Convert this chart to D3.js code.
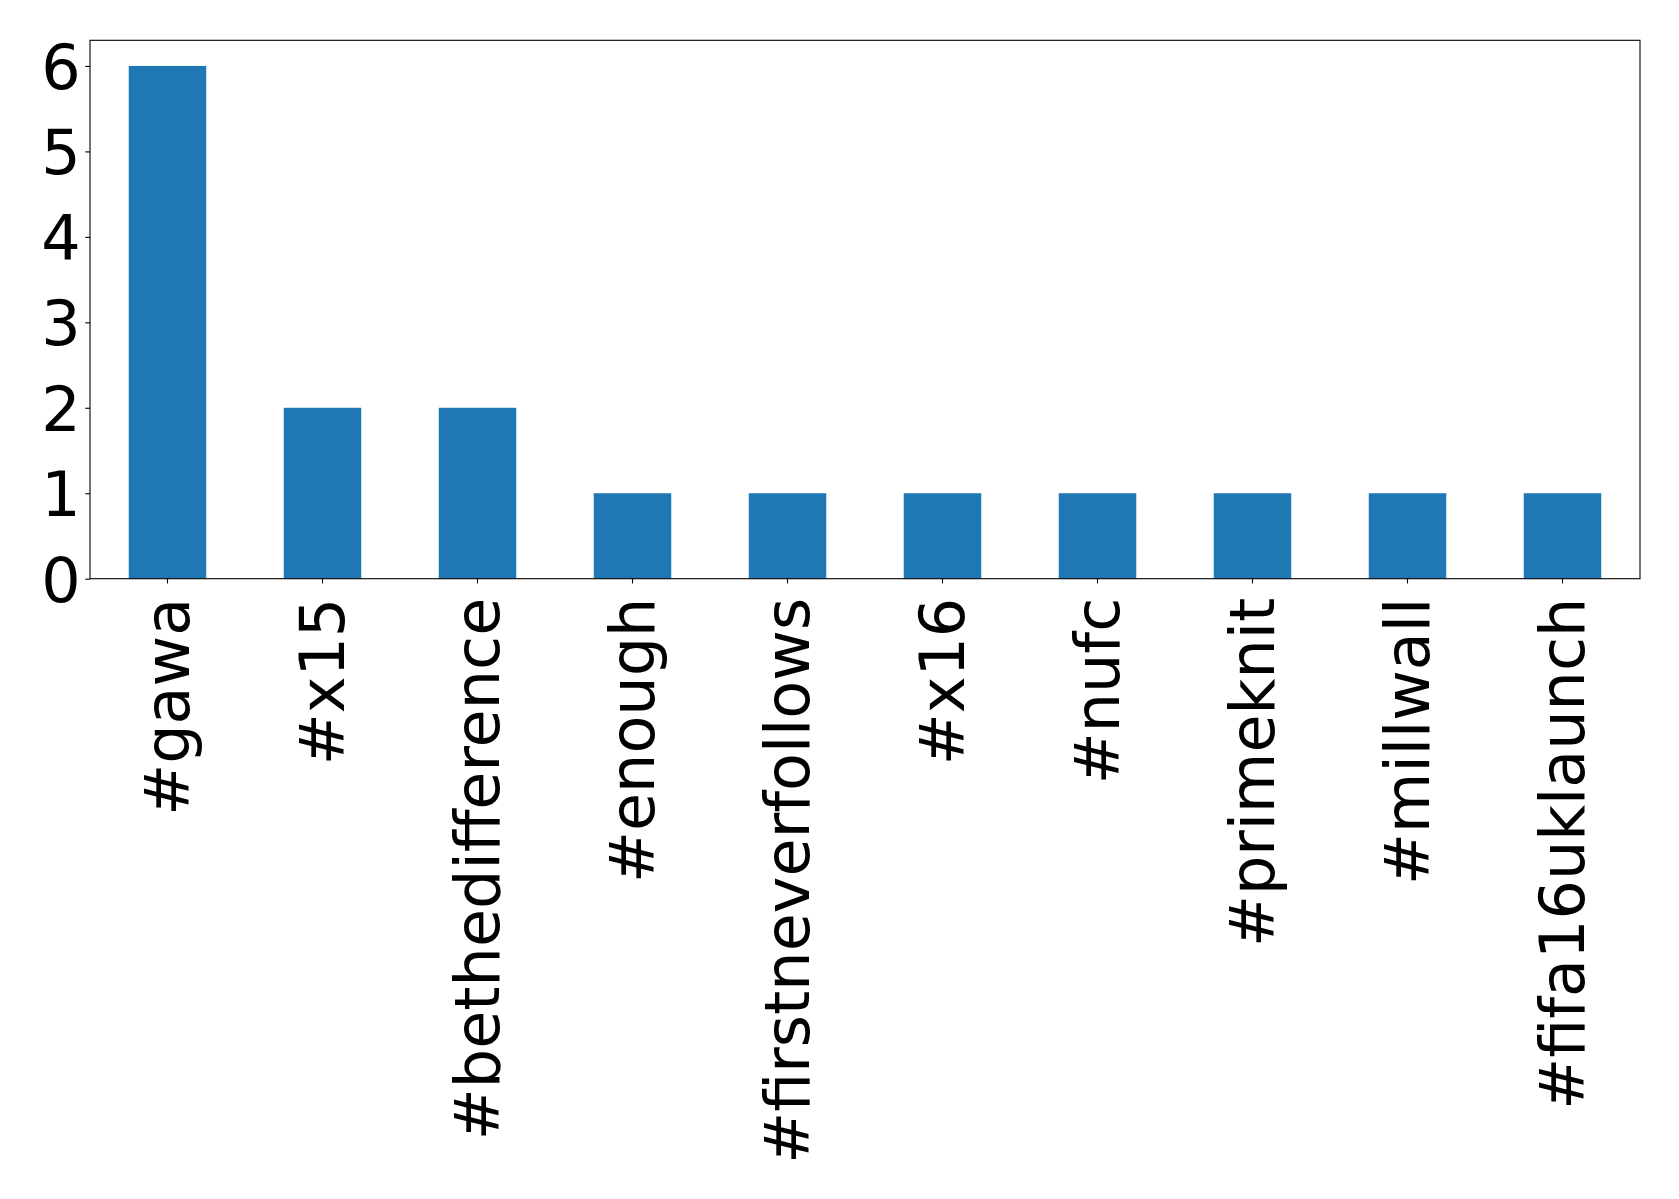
<!DOCTYPE html>
<html>
<head>
<meta charset="utf-8">
<script src="https://cdn.jsdelivr.net/npm/d3@7"></script>
<style>
html,body{margin:0;padding:0;background:#fff;}
svg{display:block;}
</style>
</head>
<body>
<script>
const categories = ["#gawa","#x15","#bethedifference","#enough","#firstneverfollows","#x16","#nufc","#primeknit","#millwall","#fifa16uklaunch"];
const counts = [6,2,2,1,1,1,1,1,1,1];
const yTicks = [0,1,2,3,4,5,6];

const W = 1679, H = 1199;
const m = {left: 90, right: 1640, top: 40.3, bottom: 578.7};
const fs = 62;

const svg = d3.select("body").append("svg").attr("width", W).attr("height", H);

const x = d3.scaleBand().domain(categories).range([m.left, m.right]).paddingInner(0.5).paddingOuter(0.25);
const y = d3.scaleLinear().domain([0, 6.3]).range([m.bottom, m.top]);

svg.append("g").selectAll("rect").data(counts).join("rect")
  .attr("x", (d,i) => x(categories[i]))
  .attr("y", d => y(d))
  .attr("width", x.bandwidth())
  .attr("height", d => y(0) - y(d))
  .attr("fill", "#1f77b4");

// frame
svg.append("rect").attr("x", m.left).attr("y", m.top)
  .attr("width", m.right - m.left).attr("height", m.bottom - m.top)
  .attr("fill", "none").attr("stroke", "#000").attr("stroke-width", 1.1);

const yAxis = d3.axisLeft(y).tickValues(yTicks).tickFormat(d3.format("d")).tickSize(4.7).tickPadding(4.7);
const gy = svg.append("g").attr("transform", `translate(${m.left},0)`).call(yAxis);
gy.select(".domain").remove();
gy.selectAll("line").attr("stroke", "#000").attr("stroke-width", 1.1);
gy.selectAll("text").attr("font-family", "DejaVu Sans").attr("font-size", fs).attr("fill", "#000").attr("dy", "0.36em");

const xAxis = d3.axisBottom(x).tickSize(4.7).tickPadding(4.7);
const gx = svg.append("g").attr("transform", `translate(0,${m.bottom})`).call(xAxis);
gx.select(".domain").remove();
gx.selectAll("line").attr("stroke", "#000").attr("stroke-width", 1.1);
gx.selectAll("text")
  .attr("font-family", "DejaVu Sans").attr("font-size", fs).attr("fill", "#000")
  .attr("text-anchor", "end")
  .attr("transform", "rotate(-90)")
  .attr("x", -19).attr("y", 0).attr("dy", "0.346em");
</script>
</body>
</html>
